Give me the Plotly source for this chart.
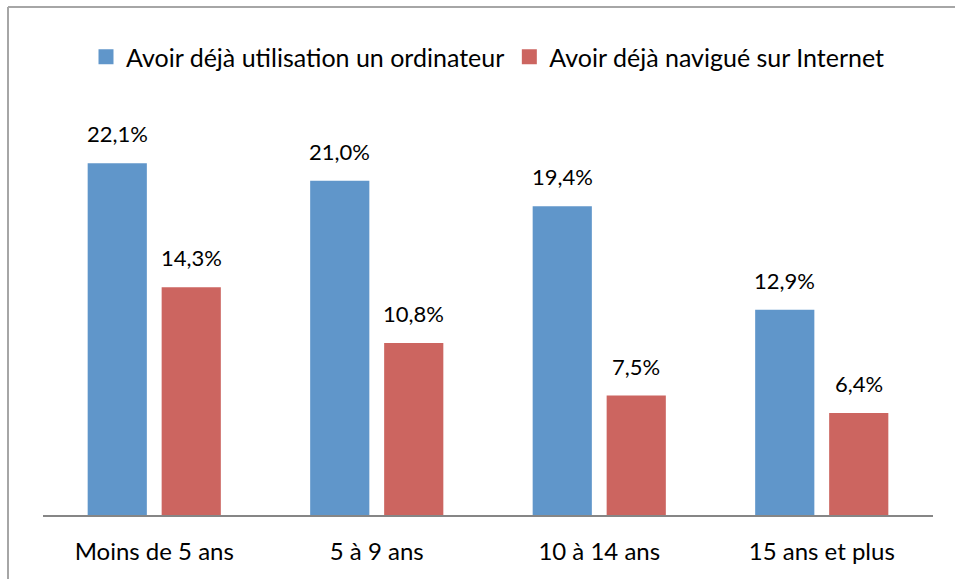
import plotly.graph_objects as go

categories = ["Moins de 5 ans", "5 à 9 ans", "10 à 14 ans", "15 ans et plus"]
series_names = ["Avoir déjà utilisation un ordinateur", "Avoir déjà navigué sur Internet"]
ordinateur = [22.1, 21.0, 19.4, 12.9]
internet = [14.3, 10.8, 7.5, 6.4]

colors = ["#6096CA", "#CC6560"]
font_family = "Lato, 'Open Sans', sans-serif"

fig = go.Figure()
for name, vals, col in zip(series_names, [ordinateur, internet], colors):
    fig.add_trace(go.Bar(
        name=name, x=categories, y=vals, marker=dict(color=col, line=dict(width=0)),
        showlegend=False,
    ))
    # legend entry with a larger square swatch
    fig.add_trace(go.Scatter(
        name=name, x=[None], y=[None], mode="markers",
        marker=dict(symbol="square", size=15, color=col), showlegend=True,
    ))

# value labels above each bar
for vals, shift in [(ordinateur, -37), (internet, 37)]:
    for cat, v in zip(categories, vals):
        fig.add_annotation(
            x=cat, y=v, xref="x", yref="y", xshift=shift, yshift=14,
            text=f"{v:.1f}%".replace(".", ","), showarrow=False, yanchor="bottom",
            font=dict(size=22, color="#000000", family=font_family),
        )

# chart frame: top and left edges (the others fall outside the page)
frame = dict(color="#A6A6A6", width=2)
fig.add_shape(type="line", xref="paper", yref="paper",
              x0=(8 - 43) / 890, x1=(1000 - 43) / 890,
              y0=(515 - 7) / 398, y1=(515 - 7) / 398, line=frame, layer="below")
fig.add_shape(type="line", xref="paper", yref="paper",
              x0=(8 - 43) / 890, x1=(8 - 43) / 890,
              y0=(515 - 650) / 398, y1=(515 - 7) / 398, line=frame, layer="below")

fig.update_layout(
    width=955, height=579,
    margin=dict(l=43, r=22, t=117, b=64),
    paper_bgcolor="white", plot_bgcolor="white",
    barmode="group", bargap=0.335, bargroupgap=0.2,
    separators=", ",
    font=dict(family=font_family, size=24, color="#000000"),
    showlegend=True,
    legend=dict(orientation="h", x=0.5, xanchor="center", y=(515 - 34) / 398, yanchor="top",
                font=dict(size=25), itemwidth=30, traceorder="normal"),
    xaxis=dict(showline=True, linecolor="#868686", linewidth=2, ticks="",
               tickfont=dict(size=24), showgrid=False, ticklabelstandoff=14),
    yaxis=dict(range=[0, 25], visible=False, showgrid=False),
)

fig.write_html("out.html")
